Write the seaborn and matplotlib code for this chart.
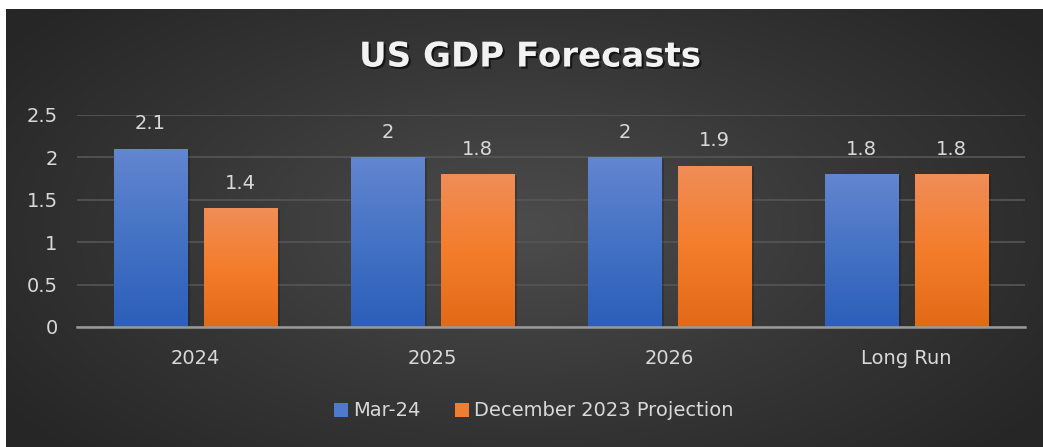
import numpy as np
import pandas as pd
import matplotlib
matplotlib.use("Agg")
import matplotlib.pyplot as plt
import matplotlib.patheffects as pe
from matplotlib.colors import LinearSegmentedColormap
from matplotlib.patches import Patch
import seaborn as sns

categories = ["2024", "2025", "2026", "Long Run"]
series_names = ["Mar-24", "December 2023 Projection"]
mar24 = [2.1, 2.0, 2.0, 1.8]
dec2023 = [1.4, 1.8, 1.9, 1.8]
y_ticks = [0, 0.5, 1, 1.5, 2, 2.5]
y_tick_labels = ["0", "0.5", "1", "1.5", "2", "2.5"]
title = "US GDP Forecasts"

df = pd.DataFrame({
    "category": categories * 2,
    "series": [series_names[0]] * 4 + [series_names[1]] * 4,
    "value": mar24 + dec2023,
})

sns.set_theme(style="dark")
plt.rcParams["font.family"] = ["DejaVu Sans"]

W, H = 1043, 447
fig = plt.figure(figsize=(W / 100, H / 100), dpi=100)
fig.patch.set_facecolor("white")

# radial gradient background
bg = fig.add_axes([6 / W, 0, (W - 6) / W, (H - 9) / H])
bg.set_axis_off()
yy, xx = np.mgrid[0:1:300j, 0:1:700j]
r = np.sqrt(((xx - 0.5) / 0.62) ** 2 + ((yy - 0.5) / 0.75) ** 2)
r = np.clip(r, 0, 1)
bg_cmap = LinearSegmentedColormap.from_list("bg", ["#4c4c4c", "#383838", "#262626"])
bg.imshow(r, cmap=bg_cmap, aspect="auto", extent=[0, 1, 0, 1], vmin=0, vmax=1)
bg.set_xlim(0, 1)
bg.set_ylim(0, 1)

left, right = 77 / W, 1025 / W
bottom, top = (H - 327) / H, (H - 115) / H
ax = fig.add_axes([left, bottom, right - left, top - bottom])
ax.patch.set_alpha(0)

palette = {series_names[0]: "#4472c4", series_names[1]: "#ed7d31"}
sns.barplot(data=df, x="category", y="value", hue="series", palette=palette,
            order=categories, hue_order=series_names, width=0.76, gap=0.18,
            ax=ax, legend=False, saturation=1, errorbar=None)

ax.set_ylim(0, 2.5)
ax.set_xlim(-0.5, 3.5)
ax.set_yticks(y_ticks)
ax.set_yticklabels(y_tick_labels)
ax.grid(axis="y", color="#565656", linewidth=1.2)
ax.grid(axis="x", visible=False)
ax.set_axisbelow(True)
for s in ["top", "right", "left"]:
    ax.spines[s].set_visible(False)
ax.spines["bottom"].set_color("#999999")
ax.spines["bottom"].set_linewidth(1.8)
ax.spines["bottom"].set_zorder(5)
ax.set_xlabel("")
ax.set_ylabel("")
ax.tick_params(axis="y", colors="#d9d9d9", labelsize=14, length=0, pad=14)
ax.tick_params(axis="x", colors="#d9d9d9", labelsize=14, length=0, pad=16)
for lbl in ax.get_yticklabels():
    lbl.set_horizontalalignment("right")

grads = {
    "#4472c4": ["#6386d0", "#4472c4", "#2c5fba"],
    "#ed7d31": ["#f08d58", "#f47d2b", "#e26a17"],
}
def hexof(c):
    return matplotlib.colors.to_hex(c[:3])

for bar in ax.patches:
    h = bar.get_height()
    if h <= 0:
        continue
    col = hexof(bar.get_facecolor())
    key = min(grads.keys(), key=lambda k: sum(abs(int(k[i:i+2], 16) - int(col[i:i+2], 16)) for i in (1, 3, 5)))
    cm = LinearSegmentedColormap.from_list("g", grads[key][::-1])
    x0 = bar.get_x()
    w = bar.get_width()
    bar.set_edgecolor("none")
    bar.set_path_effects([pe.SimplePatchShadow(offset=(2, -1), shadow_rgbFace="black", alpha=0.18), pe.Normal()])
    grad = np.linspace(0, 1, 256).reshape(-1, 1)
    im = ax.imshow(grad, cmap=cm, aspect="auto", extent=[x0, x0 + w, 0, h],
                   origin="lower", zorder=bar.get_zorder() + 0.1)
    im.set_clip_path(bar)
    ax.text(x0 + w / 2, h + 0.185, f"{h:g}", ha="center", va="bottom",
            color="#d9d9d9", fontsize=14)

ax.set_xlim(-0.5, 3.5)
ax.set_ylim(0, 2.5)

fig.text(530 / W, 1 - 57 / H, title, ha="center", va="center", color="#f2f2f2",
         fontsize=24.5, fontweight="bold",
         path_effects=[pe.withSimplePatchShadow(offset=(1.5, -1.5), shadow_rgbFace="black", alpha=0.6)])

handles = [Patch(facecolor="#4f7acb", edgecolor="none", label=series_names[0]),
           Patch(facecolor="#f07e30", edgecolor="none", label=series_names[1])]
leg = fig.legend(handles=handles, loc="center", bbox_to_anchor=(534 / W, 1 - 411 / H),
                 ncol=2, frameon=False, fontsize=14, handlelength=0.72, handleheight=0.72,
                 handletextpad=0.26, columnspacing=1.75, labelcolor="#d9d9d9")

fig.savefig("out.png", dpi=100, facecolor="white")
